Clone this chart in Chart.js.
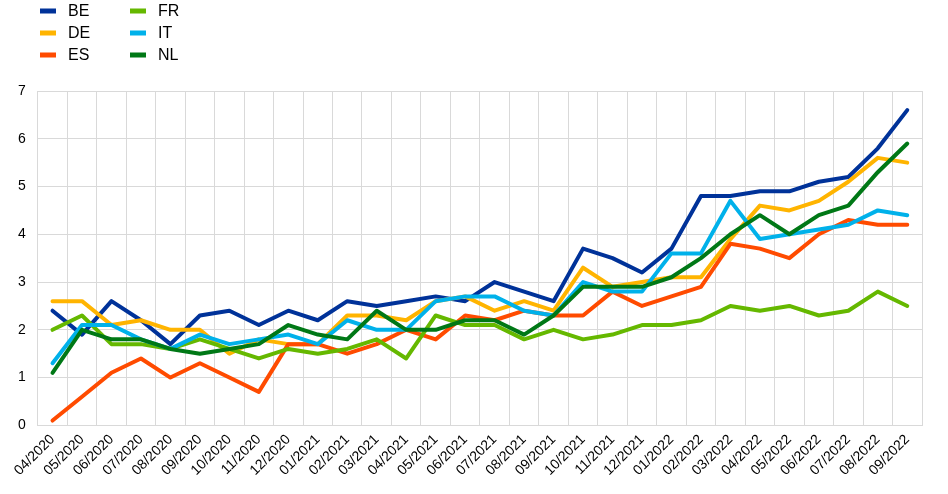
<!DOCTYPE html>
<html lang="en">
<head>
    <meta charset="UTF-8">
    <title>Chart</title>
    <script src="https://cdn.jsdelivr.net/npm/chart.js@4.4.1/dist/chart.umd.min.js"></script>
    <style>
        body { margin: 0; background: #fff; }
    </style>
</head>
<body>
<canvas id="chart" width="948" height="494"></canvas>
<script>
    const months = ['04/2020', '05/2020', '06/2020', '07/2020', '08/2020', '09/2020', '10/2020', '11/2020', '12/2020',
        '01/2021', '02/2021', '03/2021', '04/2021', '05/2021', '06/2021', '07/2021', '08/2021', '09/2021', '10/2021',
        '11/2021', '12/2021', '01/2022', '02/2022', '03/2022', '04/2022', '05/2022', '06/2022', '07/2022', '08/2022', '09/2022'];

    const be = [2.4, 1.9, 2.6, 2.2, 1.7, 2.3, 2.4, 2.1, 2.4, 2.2, 2.6, 2.5, 2.6, 2.7, 2.6, 3.0, 2.8, 2.6, 3.7, 3.5, 3.2, 3.7, 4.8, 4.8, 4.9, 4.9, 5.1, 5.2, 5.8, 6.6];
    const de = [2.6, 2.6, 2.1, 2.2, 2.0, 2.0, 1.5, 1.8, 1.7, 1.7, 2.3, 2.3, 2.2, 2.6, 2.7, 2.4, 2.6, 2.4, 3.3, 2.9, 3.0, 3.1, 3.1, 3.9, 4.6, 4.5, 4.7, 5.1, 5.6, 5.5];
    const es = [0.1, 0.6, 1.1, 1.4, 1.0, 1.3, 1.0, 0.7, 1.7, 1.7, 1.5, 1.7, 2.0, 1.8, 2.3, 2.2, 2.4, 2.3, 2.3, 2.8, 2.5, 2.7, 2.9, 3.8, 3.7, 3.5, 4.0, 4.3, 4.2, 4.2];
    const fr = [2.0, 2.3, 1.7, 1.7, 1.6, 1.8, 1.6, 1.4, 1.6, 1.5, 1.6, 1.8, 1.4, 2.3, 2.1, 2.1, 1.8, 2.0, 1.8, 1.9, 2.1, 2.1, 2.2, 2.5, 2.4, 2.5, 2.3, 2.4, 2.8, 2.5];
    const it = [1.3, 2.1, 2.1, 1.8, 1.6, 1.9, 1.7, 1.8, 1.9, 1.7, 2.2, 2.0, 2.0, 2.6, 2.7, 2.7, 2.4, 2.3, 3.0, 2.8, 2.8, 3.6, 3.6, 4.7, 3.9, 4.0, 4.1, 4.2, 4.5, 4.4];
    const nl = [1.1, 2.0, 1.8, 1.8, 1.6, 1.5, 1.6, 1.7, 2.1, 1.9, 1.8, 2.4, 2.0, 2.0, 2.2, 2.2, 1.9, 2.3, 2.9, 2.9, 2.9, 3.1, 3.5, 4.0, 4.4, 4.0, 4.4, 4.6, 5.3, 5.9];

    const seriesNames = ['BE', 'DE', 'ES', 'FR', 'IT', 'NL'];
    const seriesData = [be, de, es, fr, it, nl];
    const colors = ['#003299', '#ffb400', '#ff4b00', '#65b800', '#00b1ea', '#007816'];

    // legend in two columns, like the original
    const columnLegend = {
        id: 'columnLegend',
        afterDraw(chart) {
            const c = chart.ctx;
            c.save();
            c.font = '16px "Liberation Sans", Arial, sans-serif';
            c.textBaseline = 'middle';
            chart.data.datasets.forEach((ds, i) => {
                const x = 40 + Math.floor(i / 3) * 90;
                const y = 11 + (i % 3) * 22;
                c.fillStyle = ds.borderColor;
                c.fillRect(x, y - 2.5, 16, 5);
                c.fillStyle = '#000';
                c.fillText(ds.label, x + 28, y + 1);
            });
            c.restore();
        }
    };

    const ctx = document.getElementById('chart').getContext('2d');
    new Chart(ctx, {
        type: 'line',
        data: {
            labels: months,
            datasets: seriesNames.map((name, i) => ({
                label: name,
                data: seriesData[i],
                borderColor: colors[i],
                backgroundColor: colors[i],
                borderWidth: 4,
                pointRadius: 0,
                tension: 0,
                borderJoinStyle: 'round',
                borderCapStyle: 'round',
                order: seriesNames.length - i
            }))
        },
        options: {
            responsive: false,
            animation: false,
            devicePixelRatio: 1,
            layout: { padding: { top: 91, right: 26, left: 6, bottom: 9 } },
            plugins: {
                legend: { display: false },
                tooltip: { enabled: false }
            },
            scales: {
                x: {
                    offset: true,
                    grid: { offset: true, color: '#d9d9d9', lineWidth: 1, drawTicks: false },
                    border: { color: '#d9d9d9' },
                    ticks: {
                        color: '#000',
                        font: { family: '"Liberation Sans", Arial, sans-serif', size: 14 },
                        minRotation: 45,
                        maxRotation: 45,
                        autoSkip: false,
                        padding: 6
                    }
                },
                y: {
                    min: 0,
                    max: 7,
                    grid: { color: '#d9d9d9', lineWidth: 1, drawTicks: false },
                    border: { display: false },
                    ticks: {
                        stepSize: 1,
                        color: '#000',
                        font: { family: '"Liberation Sans", Arial, sans-serif', size: 14 },
                        padding: 12
                    }
                }
            }
        },
        plugins: [columnLegend]
    });
</script>
</body>
</html>
